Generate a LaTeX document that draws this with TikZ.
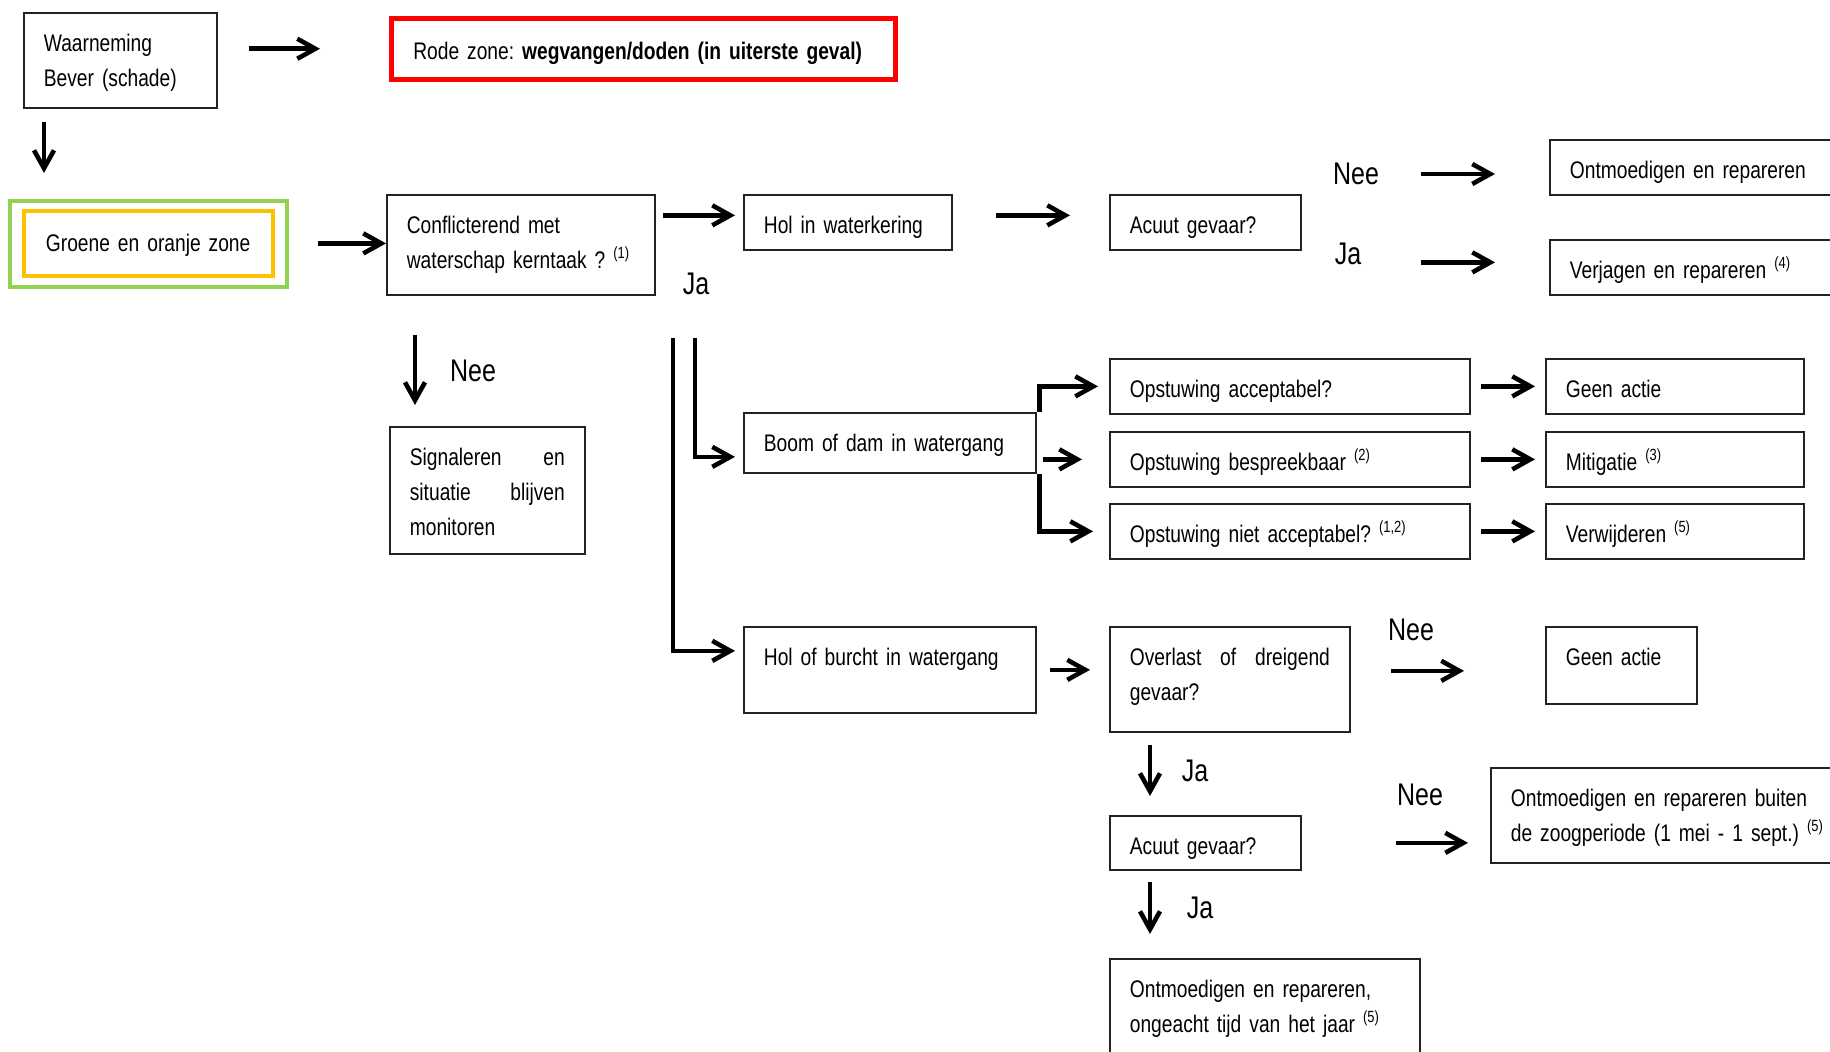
\documentclass[tikz,border=0pt]{standalone}
\usepackage{fontspec}
\setmainfont[FakeStretch=0.8]{Liberation Sans}
\usetikzlibrary{arrows.meta,positioning,calc}
\definecolor{zonered}{HTML}{FF0000}
\definecolor{zonegreen}{HTML}{92D050}
\definecolor{zoneorange}{HTML}{FFC000}
\definecolor{boxline}{HTML}{222222}
\newcommand{\noot}[1]{\raisebox{.85ex}{\fontsize{4.6}{5}\selectfont(#1)}}
\frenchspacing
\tikzset{
  stap/.style={draw=boxline,line width=.5pt,anchor=north west,align=left,
    inner xsep=.2cm,inner ysep=0pt,text height=.39cm,
    font=\fontsize{6.83}{9.96}\selectfont},
  keuze/.style={font=\fontsize{8.9}{10}\selectfont,inner sep=0pt},
  pijl/.style={line width=1.3pt,-{Straight Barb[length=1.8mm,width=2mm]}},
}

\begin{document}
\begin{tikzpicture}
% beslisschema bever: boxes placed by their top left corner
\useasboundingbox (0,0) rectangle (18.3,-10.52);
\clip (0,0) rectangle (18.3,-10.52);
\node[stap,text width=1.53cm,text depth=.56cm] (waarn) at (.23,-.12) {Waarneming\\Bever (schade)};
\node[stap,draw=zonered,line width=1.3pt,inner xsep=.22cm,text width=4.6cm,text height=.415cm,text depth=.195cm] (rode) at (3.89,-.16) {Rode zone: \textbf{wegvangen/doden (in uiterste geval)}};
\node[stap,draw=zoneorange,line width=1.1pt,inner xsep=.22cm,text width=2.05cm,text height=.41cm,text depth=.24cm] (groen) at (.22,-2.09) {\mbox{Groene en oranje zone}};
\draw[zonegreen,line width=1.1pt] ([shift={(-.12,.08)}]groen.north west) rectangle ([shift={(.12,-.09)}]groen.south east);
\node[stap,text width=2.28cm,text depth=.61cm] (conf) at (3.86,-1.94) {Conflicterend met\\waterschap kerntaak ? \noot{1}};
\node[stap,text width=1.68cm,text depth=.16cm] (hol) at (7.43,-1.94) {Hol in waterkering};
\node[stap,text width=1.51cm,text depth=.16cm] (acuut1) at (11.09,-1.94) {Acuut gevaar?};
\node[stap,text width=3cm,text depth=.16cm] (ontm) at (15.49,-1.39) {Ontmoedigen en repareren};
\node[stap,text width=3cm,text depth=.16cm] (verj) at (15.49,-2.39) {Verjagen en repareren \noot{4}};
\node[stap,text width=1.55cm,text depth=.88cm] (sign) at (3.89,-4.26) {Signaleren\hfill en\\situatie\hfill blijven\\monitoren};
\node[stap,text width=2.52cm,text depth=.21cm] (boom) at (7.43,-4.12) {Boom of dam in watergang};
\node[stap,text width=3.2cm,text depth=.16cm] (opst1) at (11.09,-3.58) {Opstuwing acceptabel?};
\node[stap,text width=3.2cm,text depth=.16cm] (opst2) at (11.09,-4.31) {Opstuwing bespreekbaar \noot{2}};
\node[stap,text width=3.2cm,text depth=.16cm] (opst3) at (11.09,-5.03) {Opstuwing niet acceptabel? \noot{1,2}};
\node[stap,text width=2.18cm,text depth=.16cm] (geen1) at (15.45,-3.58) {Geen actie};
\node[stap,text width=2.18cm,text depth=.16cm] (mitig) at (15.45,-4.31) {Mitigatie \noot{3}};
\node[stap,text width=2.18cm,text depth=.16cm] (verw) at (15.45,-5.03) {Verwijderen \noot{5}};
\node[stap,text width=2.52cm,text depth=.47cm] (holb) at (7.43,-6.26) {Hol of burcht in watergang};
\node[stap,text width=2cm,text depth=.66cm] (overl) at (11.09,-6.26) {Overlast\hfill of\hfill dreigend\\gevaar?};
\node[stap,text width=1.11cm,text depth=.38cm] (geen2) at (15.45,-6.26) {Geen actie};
\node[stap,text width=1.51cm,text depth=.15cm] (acuut2) at (11.09,-8.15) {Acuut gevaar?};
\node[stap,text width=3.4cm,text depth=.56cm] (buiten) at (14.9,-7.67) {Ontmoedigen en repareren buiten\\de zoogperiode (1 mei - 1 sept.) \noot{5}};
\node[stap,text width=2.7cm,text depth=.9cm] (ongeacht) at (11.09,-9.58) {Ontmoedigen en repareren,\\ongeacht tijd van het jaar \noot{5}};
\node[keuze] (ja1) at (6.96,-2.84) {Ja};
\node[keuze] (nee1) at (13.56,-1.74) {Nee};
\node[keuze] (ja2) at (13.48,-2.54) {Ja};
\node[keuze] (nee0) at (4.73,-3.71) {Nee};
\node[keuze] (nee2) at (14.11,-6.3) {Nee};
\node[keuze] (ja3) at (11.95,-7.71) {Ja};
\node[keuze] (nee3) at (14.2,-7.95) {Nee};
\node[keuze] (ja4) at (12,-9.08) {Ja};
\coordinate (groenin) at ([xshift=.22cm]groen.north west);
\coordinate (holin) at ([yshift=.07cm]hol.west);
\coordinate (verjin) at ([yshift=.05cm]verj.west);
\coordinate (signin) at ([xshift=.26cm]sign.north west);
\coordinate (splitA) at (6.73,-3.38);
\coordinate (splitB) at (6.95,-3.38);
\coordinate (geen2in) at ([yshift=-.055cm]geen2.west);
\coordinate (acuutin) at ([xshift=.41cm]acuut2.north west);
\coordinate (ongin) at ([xshift=.41cm]ongeacht.north west);
\draw[pijl,shorten <=.31cm,shorten >=.69cm] (waarn.east |- rode.west) -- (rode.west);
\draw[pijl,shorten <=.13cm,shorten >=.36cm] (groenin |- waarn.south) -- (groenin);
\draw[pijl,shorten <=.43cm] (groen.east) -- (groen.east -| conf.west);
\draw[pijl,shorten <=.07cm,shorten >=.08cm] (holin -| conf.east) -- (holin);
\draw[pijl,shorten <=.43cm,shorten >=.39cm] ([yshift=.07cm]hol.east) -- ([yshift=.07cm]acuut1.west);
\draw[pijl,shorten <=.41cm,shorten >=.54cm] (nee1.east) -- (nee1.east -| ontm.west);
\draw[pijl,shorten <=.59cm,shorten >=.54cm] (verjin -| ja2.east) -- (verjin);
\draw[pijl,shorten <=.39cm,shorten >=.21cm] (signin |- conf.south) -- (signin);
\draw[pijl,shorten >=.08cm] (splitA) |- ([yshift=.19cm]holb.west);
\draw[pijl,shorten >=.08cm] (splitB) |- ([yshift=-.14cm]boom.west);
\draw[pijl,shorten >=.11cm] ([xshift=.03cm]boom.north east) |- (opst1.west);
\draw[pijl,shorten <=.06cm,shorten >=.27cm] (boom.east |- opst2.west) -- (opst2.west);
\draw[pijl,shorten >=.16cm] ([xshift=.03cm]boom.south east) |- (opst3.west);
\foreach \van/\naar in {opst1/geen1,opst2/mitig,opst3/verw}
  \draw[pijl,shorten <=.1cm,shorten >=.1cm] (\van) -- (\naar);
\draw[pijl,shorten <=.13cm,shorten >=.19cm] (holb.east) -- (holb.east -| overl.west);
\draw[pijl,shorten <=.4cm,shorten >=.81cm] (geen2in -| overl.east) -- (geen2in);
\draw[pijl,shorten <=.12cm,shorten >=.19cm] (acuutin |- overl.south) -- (acuutin);
\draw[pijl,shorten <=.11cm,shorten >=.24cm] (ongin |- acuut2.south) -- (ongin);
\draw[pijl,shorten <=.94cm,shorten >=.22cm] (acuut2.east) -- (acuut2.east -| buiten.west);
\end{tikzpicture}
\end{document}
